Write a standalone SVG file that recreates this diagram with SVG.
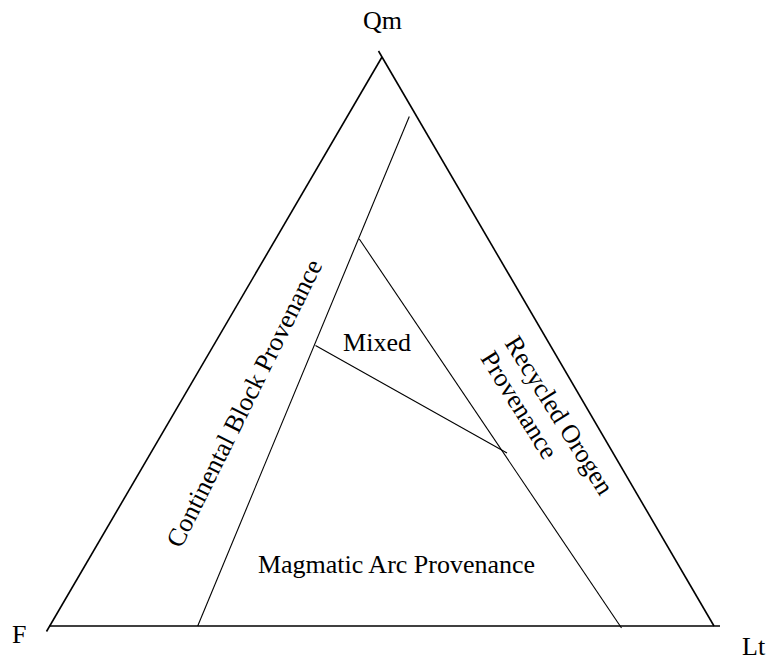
<svg xmlns="http://www.w3.org/2000/svg" width="769" height="662" viewBox="0 0 769 662">
<style>
.t{font-family:"Liberation Serif","Times New Roman",serif;font-size:26px;fill:#000}
.outer{stroke:#000;stroke-width:1.6;fill:none}
.inner{stroke:#000;stroke-width:1.1;fill:none}
</style>
<rect width="769" height="662" fill="#fff"/>
<g id="connectors">
<line class="outer" x1="46.5" y1="631.5" x2="382" y2="57"/>
<line class="outer" x1="378.5" y1="51" x2="714" y2="626"/>
<line class="outer" x1="49" y1="626" x2="720" y2="626"/>
<line class="inner" x1="409.3" y1="116.5" x2="197.7" y2="626"/>
<line class="inner" x1="359.3" y1="239" x2="621.5" y2="628"/>
<line class="inner" x1="315.5" y1="345.5" x2="507" y2="453"/>
</g>
<g id="vertex-qm"><text class="t" x="382.5" y="29" text-anchor="middle">Qm</text></g>
<g id="vertex-f"><text class="t" x="12" y="643">F</text></g>
<g id="vertex-lt"><text class="t" x="742" y="655">Lt</text></g>
<g id="field-continental"><text class="t" text-anchor="middle" transform="translate(252,407) rotate(-63.5)">Continental Block Provenance</text></g>
<g id="field-mixed"><text class="t" x="377" y="351" text-anchor="middle">Mixed</text></g>
<g id="field-recycled"><text class="t" transform="translate(504,343) rotate(58)"><tspan x="0" y="0">Recycled Orogen</tspan><tspan x="0" y="28.5">Provenance</tspan></text></g>
<g id="field-magmatic"><text class="t" x="396.5" y="573" text-anchor="middle">Magmatic Arc Provenance</text></g>
</svg>
